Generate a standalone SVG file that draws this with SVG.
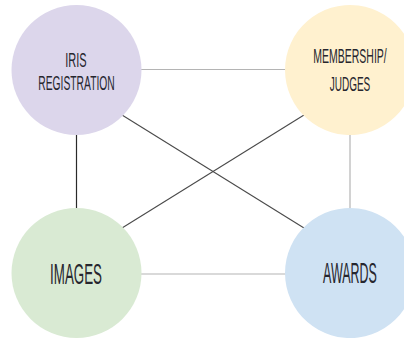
<svg xmlns="http://www.w3.org/2000/svg" width="407" height="338" viewBox="0 0 407 338">
<style>
.bg{fill:#ffffff}
.lbl{font-family:"Liberation Sans",sans-serif;fill:#26262e;text-anchor:middle}
.sm{font-size:20px}
.lg{font-size:29px}
.lt{stroke:#b4b4b4;stroke-width:1.2;fill:none}
.dk{stroke:#2a2a2a;stroke-width:1.2;fill:none}
.md{stroke:#4a4a4a;stroke-width:1.1;fill:none}
</style>
<rect class="bg" x="0" y="0" width="407" height="338"/>
<g id="connectors">
<line class="lt" x1="141" y1="69.5" x2="286" y2="69.5"/>
<line class="dk" x1="76.5" y1="134" x2="76.5" y2="209"/>
<line class="lt" x1="350" y1="134" x2="350" y2="209"/>
<line class="lt" x1="141" y1="274" x2="286" y2="274"/>
<line class="md" x1="122" y1="115" x2="304" y2="228"/>
<line class="md" x1="304" y1="115" x2="122" y2="228"/>
</g>
<g id="iris">
<circle cx="76.5" cy="70" r="65" fill="#dcd6eb"/>
<text class="lbl sm" transform="translate(76,67) scale(0.55,1)">IRIS</text>
<text class="lbl sm" transform="translate(76.5,90) scale(0.515,1)">REGISTRATION</text>
</g>
<g id="membership">
<path d="M404,33.8 A65,65 0 1 0 404,106.2 Z" fill="#fff1cf"/>
<text class="lbl sm" transform="translate(350,63) scale(0.525,1)">MEMBERSHIP/</text>
<text class="lbl sm" transform="translate(350,91) scale(0.5,1)">JUDGES</text>
</g>
<g id="images">
<circle cx="76.5" cy="273" r="65" fill="#d9ead3"/>
<text class="lbl lg" transform="translate(76,284) scale(0.46,1)">IMAGES</text>
</g>
<g id="awards">
<path d="M404,236.8 A65,65 0 1 0 404,309.2 Z" fill="#cfe2f3"/>
<text class="lbl lg" transform="translate(350,283) scale(0.43,1)">AWARDS</text>
</g>
</svg>
